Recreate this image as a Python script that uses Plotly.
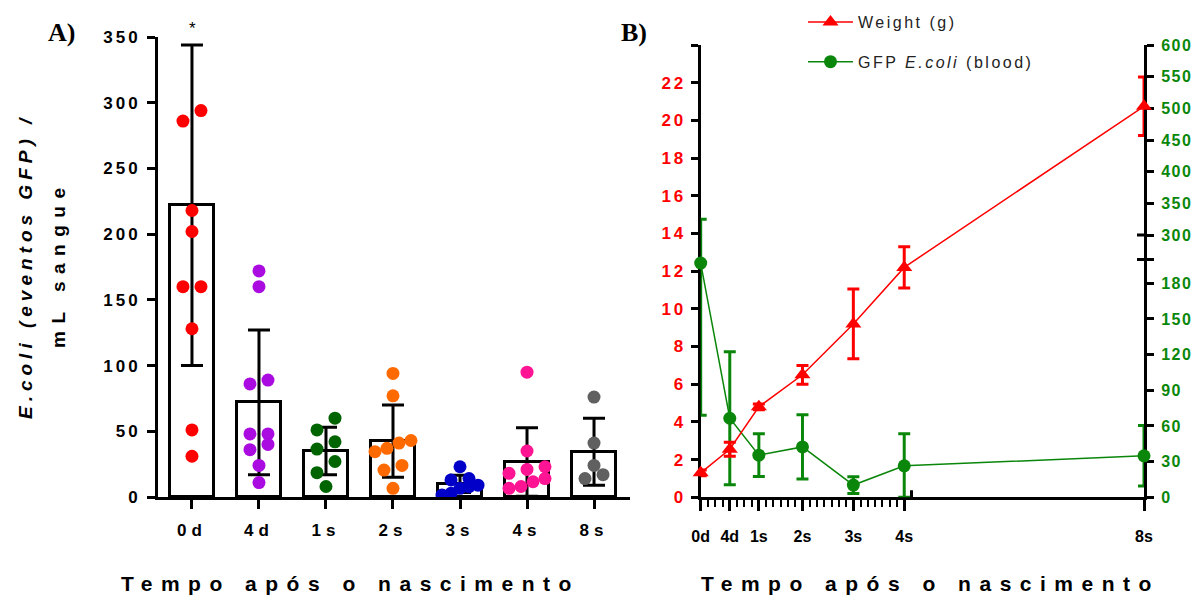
import plotly.graph_objects as go

W, H = 1195, 596
FONT = "Liberation Sans, Arial, sans-serif"

# ---------------- Panel A data ----------------
cats_a = ["0d", "4d", "1s", "2s", "3s", "4s", "8s"]
mean_a = [222, 72, 35, 42.5, 10, 26.6, 34.5]
sd_a = [122, 55, 18, 27.5, 6.5, 26, 25.5]
pts_0d = [294, 286, 218, 202, 160, 160, 128, 51, 31]
pts_4d = [172, 160, 89, 86, 48, 48, 40, 36, 24, 11]
pts_1s = [60, 51, 42, 36.5, 27, 18.5, 8]
pts_2s = [94, 77, 43, 41, 37, 34.5, 24, 20.5, 6.6]
pts_3s = [23, 14, 13, 9, 7.8, 6.6, 2.8, 1.5]
pts_4s = [95, 35, 23, 21, 18, 14, 11.6, 8, 6.6]
pts_8s = [76, 41, 24, 17, 14]
points_a = [pts_0d, pts_4d, pts_1s, pts_2s, pts_3s, pts_4s, pts_8s]
colors_a = ["#FF0000", "#A90BE0", "#006400", "#FF6A00", "#0000C8", "#FF1493", "#606060"]
yticks_a = [0, 50, 100, 150, 200, 250, 300, 350]

# ---------------- Panel B data ----------------
cats_b = ["0d", "4d", "1s", "2s", "3s", "4s", "8s"]
days_b = [0, 4, 8, 14, 21, 28, 56]
weight_mean = [1.3, 2.55, 4.8, 6.5, 9.2, 12.2, 20.75]
weight_sd = [0.15, 0.37, 0.15, 0.5, 1.85, 1.1, 1.55]
gfp_mean = [197, 66.5, 35.4, 42.4, 10.3, 26.5, 34.9]
gfp_sd = [128, 56, 18, 27, 7, 27, 25.5]
weight_ticks = list(range(0, 25, 2))
gfp_ticks_low = [0, 30, 60, 90, 120, 150, 180]
gfp_ticks_high = [300, 350, 400, 450, 500, 550, 600]


def px_x(p):
    return p / W


def px_y(p):
    return 1 - p / H


# ---- layout geometry (pixels) ----
A_L, A_R, A_B, A_T = 158, 630, 497, 37
B_L, B_R, B_B, B_T = 700.7, 1144, 497.3, 45

# ---- axis breaks of panel B ----
X_BREAK = 29
X_BREAK_FRAC = (911.5 - B_L) / (B_R - B_L)
X_MAX = days_b[-1]


def fx(d):
    if d <= X_BREAK:
        return d / X_BREAK * X_BREAK_FRAC
    return X_BREAK_FRAC + (d - X_BREAK) / (X_MAX - X_BREAK) * (1 - X_BREAK_FRAC)


LOW_MAX, HIGH_MIN, HIGH_MAX = 200, 300, 600
LOW_FRAC = (B_B - 259.5) / (B_B - B_T)
HIGH_FRAC = (B_B - 235.0) / (B_B - B_T)


def fy(v):
    if v <= LOW_MAX:
        return v / LOW_MAX * LOW_FRAC
    if v >= HIGH_MIN:
        return HIGH_FRAC + (v - HIGH_MIN) / (HIGH_MAX - HIGH_MIN) * (1 - HIGH_FRAC)
    return LOW_FRAC + (v - LOW_MAX) / (HIGH_MIN - LOW_MAX) * (HIGH_FRAC - LOW_FRAC)


# ---- swarm offsets (symmetric rows of nearby values) ----
PX_PER_CAT = (A_R - A_L) / 7.044
PX_PER_Y = (A_B - A_T) / 350.0
DOT = 12.5


def swarm(vals):
    order = sorted(range(len(vals)), key=lambda i: vals[i])
    res = [0.0] * len(vals)
    rows, cur = [], []
    for i in order:
        if cur and (vals[i] - vals[cur[0]]) * PX_PER_Y >= DOT:
            rows.append(cur)
            cur = []
        cur.append(i)
    if cur:
        rows.append(cur)
    for row in rows:
        n = len(row)
        if n == 1:
            continue
        sp = min(18.0, 36.0 / (n - 1))
        for j, i in enumerate(row):
            res[i] = (j - (n - 1) / 2) * sp / PX_PER_CAT
    return res


def spaced(t, s):
    return f"<span style='letter-spacing:{s}px'>{t}</span>"


fig = go.Figure()

# Panel A bars
fig.add_trace(go.Bar(
    x=list(range(len(cats_a))), y=mean_a, width=0.657,
    marker=dict(color="white", line=dict(color="black", width=3)),
    error_y=dict(type="data", array=sd_a, color="black", thickness=3, width=11),
    showlegend=False, xaxis="x", yaxis="y"))

for i, (vals, col) in enumerate(zip(points_a, colors_a)):
    offs = swarm(vals)
    fig.add_trace(go.Scatter(
        x=[i + o for o in offs], y=vals, mode="markers",
        marker=dict(color=col, size=13, line=dict(width=0)),
        showlegend=False, xaxis="x", yaxis="y"))

# Panel B: GFP (right, broken axis)
g_y = [fy(m) for m in gfp_mean]
g_up = [fy(m + s) - fy(m) for m, s in zip(gfp_mean, gfp_sd)]
g_dn = [fy(m) - fy(max(m - s, 0)) for m, s in zip(gfp_mean, gfp_sd)]
fig.add_trace(go.Scatter(
    x=[fx(d) for d in days_b], y=g_y, mode="lines+markers",
    name=spaced("GFP <i>E.coli</i> (blood)", 2.5),
    line=dict(color="#0A870A", width=1.5),
    marker=dict(symbol="circle", size=13, color="#0A870A"),
    error_y=dict(type="data", symmetric=False, array=g_up, arrayminus=g_dn,
                 color="#0A870A", thickness=3, width=6),
    cliponaxis=False, legendrank=2, legendgroup="g",
    xaxis="x2", yaxis="y2"))

# Panel B: weight (left axis)
fig.add_trace(go.Scatter(
    x=[fx(d) for d in days_b], y=weight_mean, mode="lines+markers",
    name=spaced("Weight (g)", 2.5),
    line=dict(color="#FF0000", width=1.5),
    marker=dict(symbol="triangle-up", size=14, color="#FF0000"),
    error_y=dict(type="data", array=weight_sd, color="#FF0000", thickness=3, width=6),
    cliponaxis=False, legendrank=1, legendgroup="w",
    xaxis="x2", yaxis="y3"))

tickfont_a = dict(family=FONT, size=17, color="black")

minor_days = [d for d in range(1, X_BREAK) if d not in days_b]

fig.update_layout(
    width=W, height=H, autosize=False,
    margin=dict(l=0, r=0, t=0, b=0, autoexpand=False),
    paper_bgcolor="white", plot_bgcolor="white",
    font=dict(family=FONT, color="black"),
    bargap=0,
    xaxis=dict(domain=[px_x(A_L), px_x(A_R)], range=[-0.507, 6.537], anchor="y",
               showline=True, linecolor="black", linewidth=3, automargin=False,
               ticks="outside", ticklen=9, tickwidth=3, tickcolor="black",
               tickvals=list(range(len(cats_a))),
               ticktext=["<b>" + spaced(c, 5) + "</b>" for c in cats_a],
               tickfont=tickfont_a, showgrid=False, zeroline=False,
               ticklabelstandoff=7),
    yaxis=dict(domain=[px_y(A_B), px_y(A_T)], range=[0, 350], anchor="x",
               showline=True, linecolor="black", linewidth=3, automargin=False,
               ticks="outside", ticklen=8, tickwidth=3, tickcolor="black",
               tickvals=yticks_a,
               ticktext=["<b>" + spaced(str(v), 3) + "</b>" for v in yticks_a],
               tickfont=tickfont_a, showgrid=False, zeroline=False,
               ticklabelstandoff=3),
    xaxis2=dict(domain=[px_x(B_L), px_x(B_R)], range=[0, 1], anchor="y2",
                showline=True, linecolor="black", linewidth=3, automargin=False,
                layer="below traces",
                ticks="outside", ticklen=11, tickwidth=3, tickcolor="black",
                tickvals=[fx(d) for d in days_b],
                ticktext=["<b>" + c + "</b>" for c in cats_b],
                tickfont=dict(family=FONT, size=16, color="black"),
                minor=dict(tickvals=[fx(d) for d in minor_days], ticks="outside",
                           ticklen=7, tickwidth=2, tickcolor="black"),
                showgrid=False, zeroline=False, ticklabelstandoff=11),
    yaxis2=dict(domain=[px_y(B_B), px_y(B_T)], range=[0, 1], anchor="x2", side="right",
                showline=True, linecolor="black", linewidth=3, layer="below traces",
                ticks="outside", ticklen=7, tickwidth=3, tickcolor="black",
                automargin=False,
                tickvals=[fy(v) for v in gfp_ticks_low] + [fy(LOW_MAX)] + [fy(v) for v in gfp_ticks_high],
                ticktext=["<b>" + spaced(str(v), 1.5) + "</b>" for v in gfp_ticks_low] + [""]
                         + ["<b>" + spaced(str(v), 1.5) + "</b>" for v in gfp_ticks_high],
                tickfont=dict(family=FONT, size=16, color="#0A870A"),
                showgrid=False, zeroline=False, ticklabelstandoff=4),
    yaxis3=dict(overlaying="y2", side="left", anchor="x2", range=[0, 24],
                showline=True, linecolor="black", linewidth=3, automargin=False,
                layer="below traces",
                ticks="outside", ticklen=7, tickwidth=3, tickcolor="black",
                tickvals=weight_ticks,
                ticktext=["<b>" + spaced(str(v), 3) + "</b>" if v < 24 else "" for v in weight_ticks],
                tickfont=dict(family=FONT, size=17, color="#FF0000"),
                showgrid=False, zeroline=False, ticklabelstandoff=1),
    legend=dict(x=px_x(803), y=px_y(5), xanchor="left", yanchor="top",
                bgcolor="rgba(0,0,0,0)", font=dict(family=FONT, size=16, color="#222"),
                tracegroupgap=16, itemwidth=45),
)

# gap in the right broken axis + break caps + x break mark
gap_lo, gap_hi = fy(LOW_MAX), fy(HIGH_MIN)
shapes = [
    dict(type="rect", xref="x2", yref="y2", xsizemode="pixel", xanchor=1,
         x0=-4, x1=4, y0=gap_lo + 0.004, y1=gap_hi - 0.004,
         fillcolor="white", line=dict(width=0), layer="above"),
]
for v in (LOW_MAX, HIGH_MIN):
    shapes.append(dict(type="line", xref="x2", yref="y2", xsizemode="pixel", xanchor=1,
                       x0=-7, x1=1, y0=fy(v), y1=fy(v), line=dict(color="black", width=3)))
shapes.append(dict(type="line", xref="x2", yref="y2", ysizemode="pixel", yanchor=0,
                   x0=X_BREAK_FRAC, x1=X_BREAK_FRAC, y0=-8, y1=7,
                   line=dict(color="black", width=3)))
fig.update_layout(shapes=shapes)

ann = [
    dict(text="<b>A)</b>", x=px_x(61), y=px_y(32), font=dict(family="Liberation Serif, Times New Roman, serif", size=26)),
    dict(text="<b>B)</b>", x=px_x(634), y=px_y(32), font=dict(family="Liberation Serif, Times New Roman, serif", size=26)),
    dict(text="*", x=px_x(192), y=px_y(28), font=dict(family=FONT, size=17)),
    dict(text="<b><i>" + spaced("E.coli (eventos GFP) /", 5) + "</i></b>", x=px_x(25), y=px_y(267),
         textangle=-90, font=dict(family=FONT, size=19)),
    dict(text="<b>" + spaced("mL sangue", 7.5) + "</b>", x=px_x(58), y=px_y(265),
         textangle=-90, font=dict(family=FONT, size=19)),
    dict(text="<b>" + spaced("Tempo após o nascimento", 8.5) + "</b>", x=px_x(350), y=px_y(583),
         font=dict(family=FONT, size=21)),
    dict(text="<b>" + spaced("Tempo após o nascimento", 8.5) + "</b>", x=px_x(930), y=px_y(583),
         font=dict(family=FONT, size=21)),
]
for a in ann:
    a.update(xref="paper", yref="paper", showarrow=False, xanchor="center", yanchor="middle")
fig.update_layout(annotations=ann)

fig.write_html("out.html")
